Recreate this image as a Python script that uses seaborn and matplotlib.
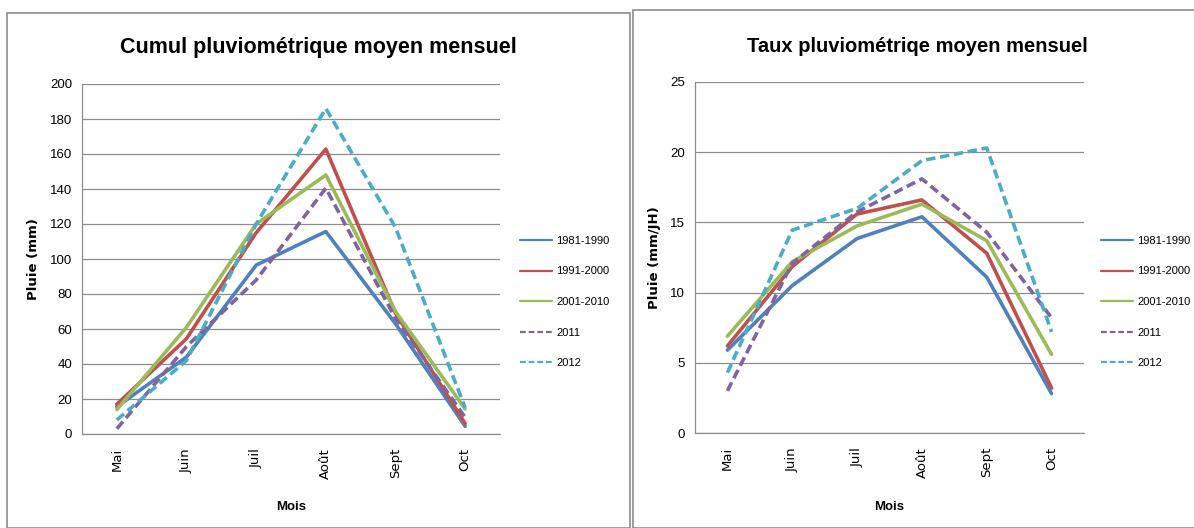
import pandas as pd
import matplotlib
matplotlib.use("Agg")
import matplotlib.pyplot as plt
import seaborn as sns
from matplotlib.patches import Rectangle
from matplotlib.ticker import FixedLocator

# ============================================
# Data
# ============================================

mois = ["Mai", "Juin", "Juil", "Août", "Sept", "Oct"]
periodes = ["1981-1990", "1991-2000", "2001-2010", "2011", "2012"]

# Cumul pluviométrique (mm)
cumul_1981_1990 = [15.6, 44, 96.5, 115.7, 63, 4.4]
cumul_1991_2000 = [17, 54.5, 115, 162.8, 69, 6]
cumul_2001_2010 = [14, 61, 120, 148, 70, 14.3]
cumul_2011 = [3, 50, 88, 140.5, 66, 9.5]
cumul_2012 = [8, 42, 120, 186, 118, 15]

# Taux pluviométrique (mm/JH)
taux_1981_1990 = [5.9, 10.5, 13.85, 15.4, 11.1, 2.8]
taux_1991_2000 = [6.2, 11.85, 15.6, 16.6, 12.8, 3.2]
taux_2001_2010 = [6.9, 12.2, 14.75, 16.3, 13.7, 5.6]
taux_2011 = [3.0, 12.1, 15.75, 18.1, 14.3, 8.2]
taux_2012 = [4.3, 14.45, 16.0, 19.4, 20.3, 7.2]

couleurs = {
    "1981-1990": "#4F81BD",
    "1991-2000": "#C0504D",
    "2001-2010": "#9BBB59",
    "2011": "#8064A2",
    "2012": "#4BACC6",
}
tirets = {
    "1981-1990": "",
    "1991-2000": "",
    "2001-2010": "",
    "2011": (2.6, 1.3),
    "2012": (2.6, 1.3),
}


def to_long(series_list):
    rows = []
    for periode, values in zip(periodes, series_list):
        for m, v in zip(mois, values):
            rows.append({"Mois": m, "Pluie": v, "Période": periode})
    return pd.DataFrame(rows)


df_cumul = to_long([cumul_1981_1990, cumul_1991_2000, cumul_2001_2010,
                    cumul_2011, cumul_2012])
df_taux = to_long([taux_1981_1990, taux_1991_2000, taux_2001_2010,
                   taux_2011, taux_2012])

# ============================================
# Figure
# ============================================

sns.set_style("white")
narrow = ["Liberation Sans", "DejaVu Sans"]
plt.rcParams["font.family"] = ["DejaVu Sans"]
plt.rcParams["text.color"] = "black"
plt.rcParams["xtick.color"] = "black"
plt.rcParams["ytick.color"] = "black"
plt.rcParams["axes.labelcolor"] = "black"

W, H = 1194, 528
fig = plt.figure(figsize=(W / 100, H / 100), dpi=100)
fig.patch.set_facecolor("white")


def px_axes(x0, y0, x1, y1):
    return fig.add_axes([x0 / W, 1 - y1 / H, (x1 - x0) / W, (y1 - y0) / H])


grid_col = "#8C8C8C"


def draw_panel(ax, df, ymax, ystep, title, title_x, title_size, ylabel,
               ylabel_x, legend_x):
    sns.lineplot(data=df, x="Mois", y="Pluie", hue="Période", style="Période",
                 hue_order=periodes, style_order=periodes, palette=couleurs,
                 dashes=tirets, linewidth=2.6, sort=False, legend=False, ax=ax)
    ax.set_xlim(-0.5, len(mois) - 0.5)
    ax.set_ylim(0, ymax)
    ax.set_yticks(range(0, ymax + 1, ystep))
    ax.yaxis.grid(True, color=grid_col, linewidth=0.9)
    ax.set_axisbelow(True)
    for s in ["top", "right"]:
        ax.spines[s].set_visible(False)
    for s in ["left", "bottom"]:
        ax.spines[s].set_color(grid_col)
        ax.spines[s].set_linewidth(0.9)
    ax.tick_params(axis="y", which="major", length=4, color=grid_col,
                   width=0.9, pad=3, labelsize=9.5, labelcolor="black")
    for lab in ax.get_yticklabels():
        lab.set_family(narrow)
    ax.set_xticks(range(len(mois)))
    ax.set_xticklabels(mois, rotation=90, fontsize=9.5)
    ax.tick_params(axis="x", which="major", length=0, pad=10)
    ax.xaxis.set_minor_locator(FixedLocator([i - 0.5 for i in range(len(mois) + 1)]))
    ax.tick_params(axis="x", which="minor", length=5, color=grid_col, width=0.9)
    ax.set_xlabel("")
    ax.set_ylabel("")

    fig.text(title_x / W, 1 - 47 / H, title, ha="center", va="center",
             fontsize=title_size, fontweight="bold", family=narrow)
    bbox = ax.get_position()
    fig.text((bbox.x0 + bbox.x1) / 2, 1 - 507 / H, "Mois", ha="center",
             va="center", fontsize=9.5, fontweight="bold", family=narrow)
    fig.text(ylabel_x / W, (bbox.y0 + bbox.y1) / 2, ylabel, ha="center",
             va="center", rotation=90, fontsize=9.5, fontweight="bold")

    leg = ax.legend(ax.get_lines()[:len(periodes)], periodes, frameon=False,
                    loc="center left",
                    bbox_to_anchor=(legend_x / W, 1 - 302 / H),
                    bbox_transform=fig.transFigure, borderpad=0,
                    borderaxespad=0, handlelength=2.9, handletextpad=0.35,
                    labelspacing=1.85, prop={"family": narrow, "size": 8})
    for line in leg.get_lines():
        line.set_linewidth(1.6)
    return leg


ax1 = px_axes(82, 84, 500, 434)
draw_panel(ax1, df_cumul, 200, 20, "Cumul pluviométrique moyen mensuel",
           318, 15.5, "Pluie (mm)", 33, 520)

ax2 = px_axes(695, 82, 1084, 433)
draw_panel(ax2, df_taux, 25, 5, "Taux pluviométriqe moyen mensuel",
           917, 14.5, "Pluie (mm/JH)", 655, 1101)

# chart frames
fig.patches.append(Rectangle((7 / W, 0), (630 - 7) / W, 1 - 13 / H,
                             transform=fig.transFigure, fill=False,
                             edgecolor="#8C8C8C", linewidth=1.2))
fig.patches.append(Rectangle((633 / W, 0), (W + 5 - 633) / W, 1 - 10 / H,
                             transform=fig.transFigure, fill=False,
                             edgecolor="#8C8C8C", linewidth=1.2))

plt.savefig("out.png", dpi=100)
